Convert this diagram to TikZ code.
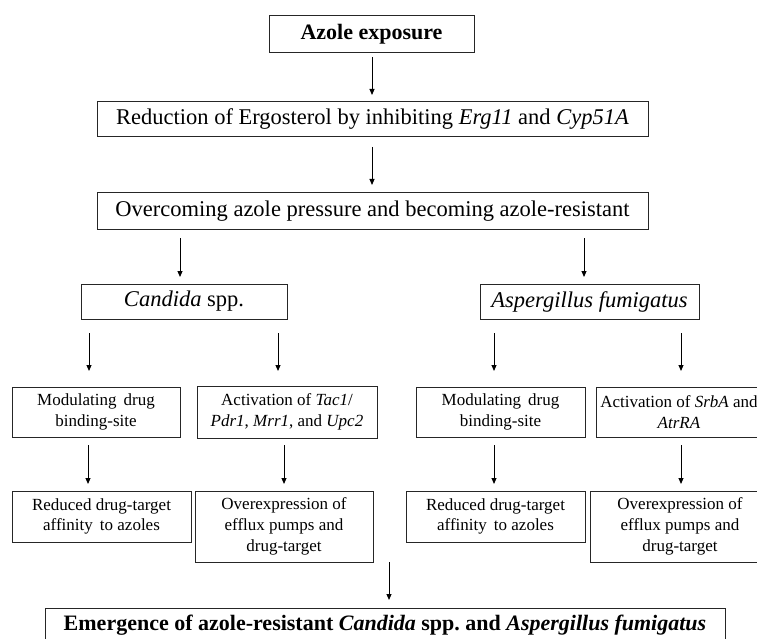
\documentclass[tikz,border=0pt]{standalone}
\usepackage{fontspec}
\setmainfont{Liberation Serif}
\usetikzlibrary{arrows.meta}
\begin{document}
\begin{tikzpicture}[x=1pt,y=-1pt,
  box/.style={draw=black!85,line width=1pt,rectangle,inner sep=0pt,align=center,text=black},
  big/.style={font=\fontsize{22.5}{26}\selectfont},
  small/.style={font=\fontsize{17}{20.7}\selectfont},
  arr/.style={draw=black,line width=1pt,-{Triangle[length=6pt,width=5pt]}}]
\useasboundingbox[fill=white] (0,0) rectangle (757,639);
% top chain
\node[box,minimum width=205pt,minimum height=37pt,font=\fontsize{22}{26}\selectfont\bfseries] (azole) at (371.5,34.5) {Azole exposure};
\node[box,big,minimum width=551pt,minimum height=35pt] (reduc) at (372.5,119.5) {Reduction of Ergosterol by inhibiting \textit{Erg11} and \textit{Cyp51A}};
\node[box,big,minimum width=551pt,minimum height=36pt] (over) at (372.5,211) {Overcoming azole pressure and becoming azole-resistant};
\node[box,big,minimum width=206pt,minimum height=35pt] (cand) at (184,301.5) {\textit{Candida} spp.};
\node[box,big,minimum width=219pt,minimum height=35pt] (asp) at (589.5,301.5) {\textit{Aspergillus fumigatus}};
% row 1
\node[box,small,minimum width=168pt,minimum height=50pt] (modA) at (96,412) {Modulating\, drug\\binding-site};
\node[box,small,minimum width=180pt,minimum height=52pt] (actB) at (287,412) {Activation of \textit{Tac1}/\\\textit{Pdr1}, \textit{Mrr1}, and \textit{Upc2}};
\node[box,small,minimum width=169pt,minimum height=50pt] (modC) at (500.5,412) {Modulating\, drug\\binding-site};
\node[box,small,minimum width=166pt,minimum height=50pt] (actD) at (679,412) {Activation of \textit{SrbA} and\\\textit{AtrRA}};
% row 2
\node[box,small,minimum width=179pt,minimum height=51pt] (redA) at (101.5,516.5) {Reduced drug-target\\affinity\, to azoles};
\node[box,small,minimum width=178pt,minimum height=71pt] (ovB) at (284,526.5) {Overexpression of\\efflux pumps and\\drug-target};
\node[box,small,minimum width=179pt,minimum height=51pt] (redC) at (495.5,516.5) {Reduced drug-target\\affinity\, to azoles};
\node[box,small,minimum width=180pt,minimum height=71pt] (ovD) at (680,526.5) {Overexpression of\\efflux pumps and\\drug-target};
% final
\node[box,minimum width=680pt,minimum height=34pt,font=\fontsize{22}{26}\selectfont\bfseries] (emer) at (385,625) {Emergence of azole-resistant \textit{Candida} spp.\ and \textit{Aspergillus fumigatus}};
% arrow coordinates
\coordinate (a1s) at (372,57);  \coordinate (a1e) at (372,95);
\coordinate (a2s) at (372,147); \coordinate (a2e) at (372,185);
\coordinate (a3s) at (180,238); \coordinate (a3e) at (180,277);
\coordinate (a4s) at (584,238); \coordinate (a4e) at (584,277);
\coordinate (b1s) at (89,333);  \coordinate (b1e) at (89,371);
\coordinate (b2s) at (278,333); \coordinate (b2e) at (278,371);
\coordinate (b3s) at (494,333); \coordinate (b3e) at (494,371);
\coordinate (b4s) at (681,333); \coordinate (b4e) at (681,371);
\coordinate (c1s) at (88,445);  \coordinate (c1e) at (88,484);
\coordinate (c2s) at (284,445); \coordinate (c2e) at (284,484);
\coordinate (c3s) at (494,445); \coordinate (c3e) at (494,484);
\coordinate (c4s) at (681,445); \coordinate (c4e) at (681,484);
\coordinate (ds) at (389,562);  \coordinate (de) at (389,600);
\foreach \p in {a1,a2,a3,a4,b1,b2,b3,b4,c1,c2,c3,c4,d}{\draw[arr] (\p s) -- (\p e);}
\end{tikzpicture}
\end{document}
